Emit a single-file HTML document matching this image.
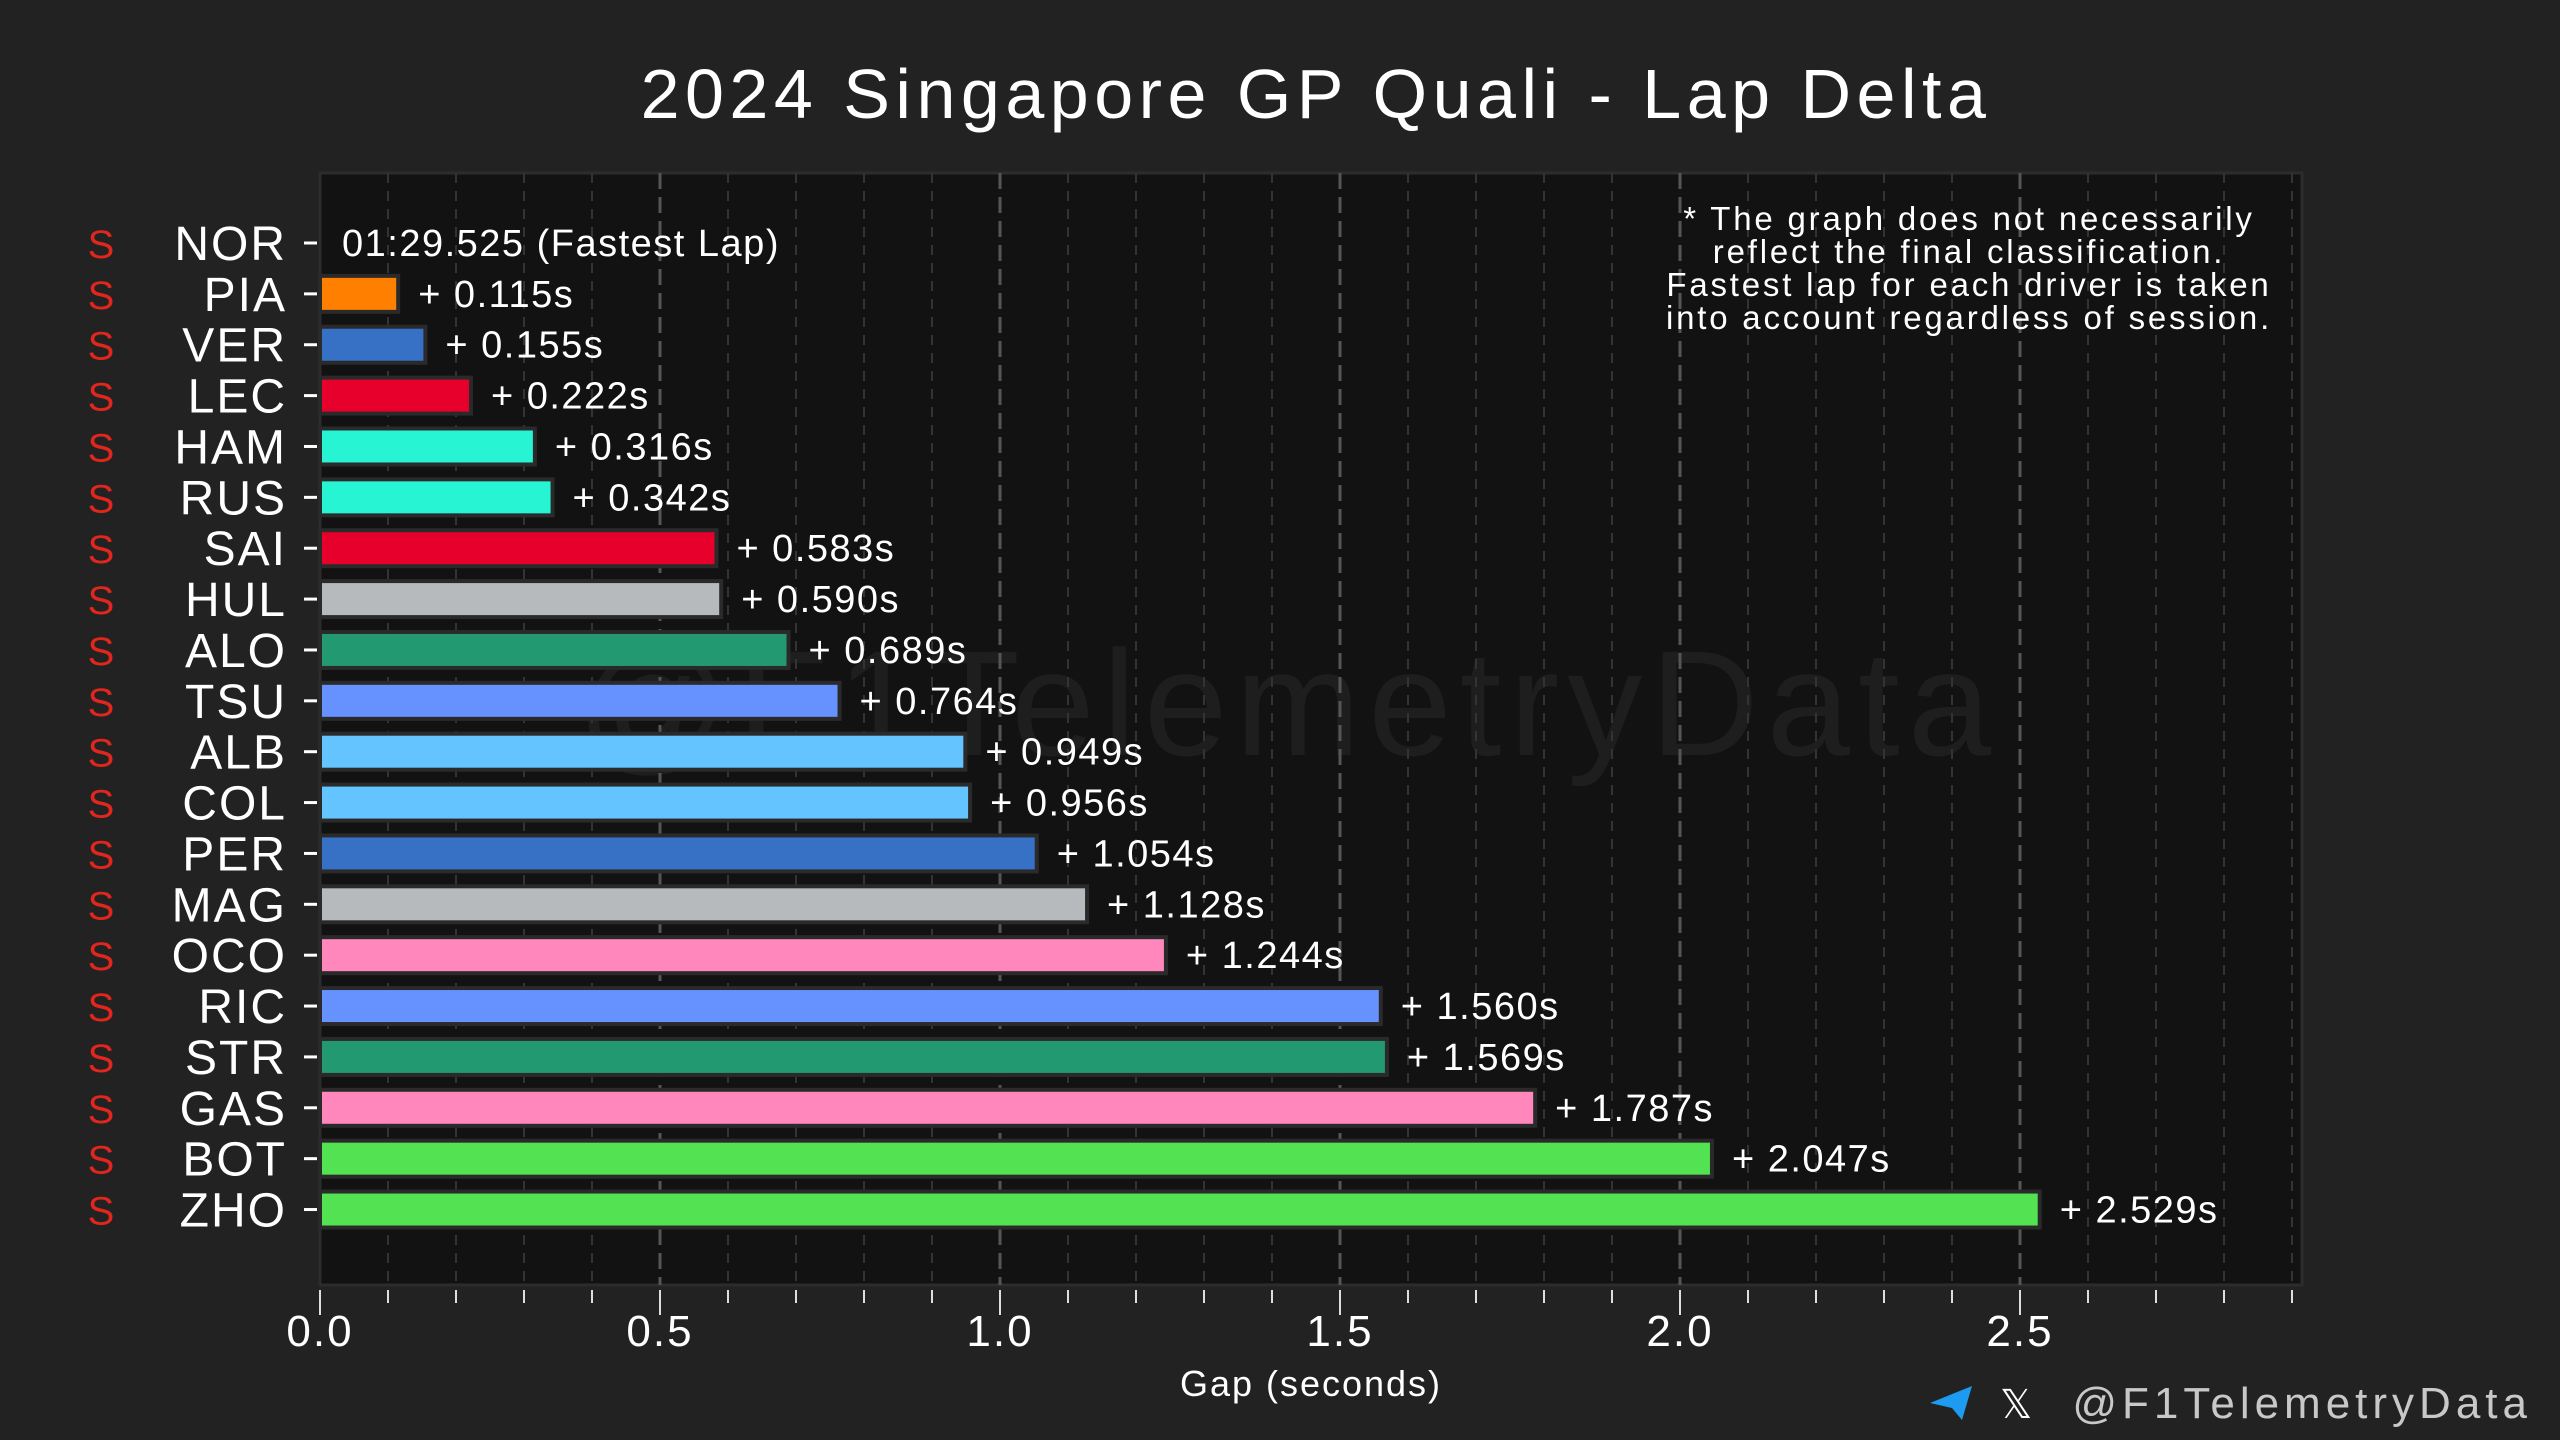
<!DOCTYPE html>
<html><head><meta charset="utf-8"><style>
html,body{margin:0;padding:0;background:#222222;}
svg{display:block;font-family:"Liberation Sans",sans-serif;}
</style></head><body>
<svg id="chart" width="2560" height="1440" viewBox="0 0 2560 1440">
<rect x="0" y="0" width="2560" height="1440" fill="#222222"/>
<text x="1316" y="118" text-anchor="middle" font-size="70" letter-spacing="5.5" fill="#ffffff">2024 Singapore GP Quali - Lap Delta</text>
<rect x="320" y="173" width="1982" height="1112" fill="#121212" stroke="#2c2c2c" stroke-width="3"/>
<text x="1288" y="755" text-anchor="middle" font-size="150" letter-spacing="8" fill="#ffffff" fill-opacity="0.05">@F1TelemetryData</text>
<g id="grid"></g>
<g id="bars"></g>
<g id="yaxis"></g>
<g id="xaxis"></g>
<g font-size="33" letter-spacing="2.8" fill="#ffffff" text-anchor="middle">
<text x="1969" y="230">* The graph does not necessarily</text>
<text x="1969" y="263">reflect the final classification.</text>
<text x="1969" y="296">Fastest lap for each driver is taken</text>
<text x="1969" y="329">into account regardless of session.</text>
</g>
<text x="1311" y="1396" text-anchor="middle" font-size="36" letter-spacing="2" fill="#ffffff">Gap (seconds)</text>
<g>
<path d="M1930 1403 L1972 1386 L1962 1420 L1952 1408 Z" fill="#1d9bf0"/>
<text x="2000" y="1418" font-size="40" fill="#ffffff">𝕏</text>
<text x="2532" y="1418" text-anchor="end" font-size="44" letter-spacing="5" fill="#c8c8c8">@F1TelemetryData</text>
</g>
</svg>
<script>
const drivers = ["NOR","PIA","VER","LEC","HAM","RUS","SAI","HUL","ALO","TSU","ALB","COL","PER","MAG","OCO","RIC","STR","GAS","BOT","ZHO"];
const gaps = [0,0.115,0.155,0.222,0.316,0.342,0.583,0.590,0.689,0.764,0.949,0.956,1.054,1.128,1.244,1.560,1.569,1.787,2.047,2.529];
const colors = ["#ff8000","#ff8000","#3671c6","#e8002d","#27f4d2","#27f4d2","#e8002d","#b6babd","#229971","#6692ff","#64c4ff","#64c4ff","#3671c6","#b6babd","#ff87bc","#6692ff","#229971","#ff87bc","#52e252","#52e252"];
const tyres = ["S","S","S","S","S","S","S","S","S","S","S","S","S","S","S","S","S","S","S","S"];
const xTicks = [0,0.5,1.0,1.5,2.0,2.5];
const xTickLabels = ["0.0","0.5","1.0","1.5","2.0","2.5"];
const fastestLap = "01:29.525 (Fastest Lap)";

const NS="http://www.w3.org/2000/svg";
const X0=320, PX=680, XMAX=2.915, Y0=243, STEP=50.87, BH=36, PT=173, PB=1285;
const x = v => X0 + v*PX;
const y = i => Y0 + i*STEP;
function mk(tag, attrs, parent){const e=document.createElementNS(NS,tag);for(const k in attrs)e.setAttribute(k,attrs[k]);parent.appendChild(e);return e;}
const grid=document.getElementById('grid'), bars=document.getElementById('bars'), ya=document.getElementById('yaxis'), xa=document.getElementById('xaxis');

for(let t=1;t*0.1<XMAX;t++){
  const v=t*0.1, major=(t%5===0);
  const l=mk('line',{x1:x(v),x2:x(v),y1:PT,y2:PB,stroke:major?'#555':'#333','stroke-width':major?3:2,'stroke-dasharray':major?'16,8':'10,8'},grid);
  
  
}
for(let t=0;t*0.1<XMAX;t++){
  const v=t*0.1, major=(t%5===0);
  const l=mk('line',{x1:x(v),x2:x(v),y1:1290,y2:major?1315:1303,stroke:'#dddddd','stroke-width':2},xa);
  
  
}
xTicks.forEach((v,i)=>{
  const t=mk('text',{x:x(v),y:1346,'text-anchor':'middle','font-size':44,'letter-spacing':2,fill:'#ffffff'},xa);
  t.textContent=xTickLabels[i];
  
  
});
drivers.forEach((d,i)=>{
  const cy=y(i);
  if(gaps[i]>0){
    const r=mk('rect',{x:x(0),y:cy-BH/2,width:x(gaps[i])-x(0),height:BH,fill:colors[i],stroke:'#2a2a2a','stroke-width':4},bars);
    
    
    const t=mk('text',{x:x(gaps[i])+20,y:cy+13,'font-size':38,'letter-spacing':1.5,fill:'#ffffff'},bars);
    t.textContent='+ '+gaps[i].toFixed(3)+'s';
    
    
  } else {
    const t=mk('text',{x:342,y:cy+13,'font-size':38,'letter-spacing':1.5,fill:'#ffffff'},bars);
    t.textContent=fastestLap;
    
    
  }
  const lab=mk('text',{x:287,y:cy+17,'text-anchor':'end','font-size':48,'letter-spacing':2,fill:'#ffffff'},ya);
  lab.textContent=d;
  
  
  const tk=mk('line',{x1:304,x2:317,y1:cy,y2:cy,stroke:'#ffffff','stroke-width':3},ya);
  
  
  const s=mk('text',{x:101,y:cy+15,'text-anchor':'middle','font-size':40,fill:'#e0261d'},ya);
  s.textContent=tyres[i];
  
  
});
</script>
</body></html>
